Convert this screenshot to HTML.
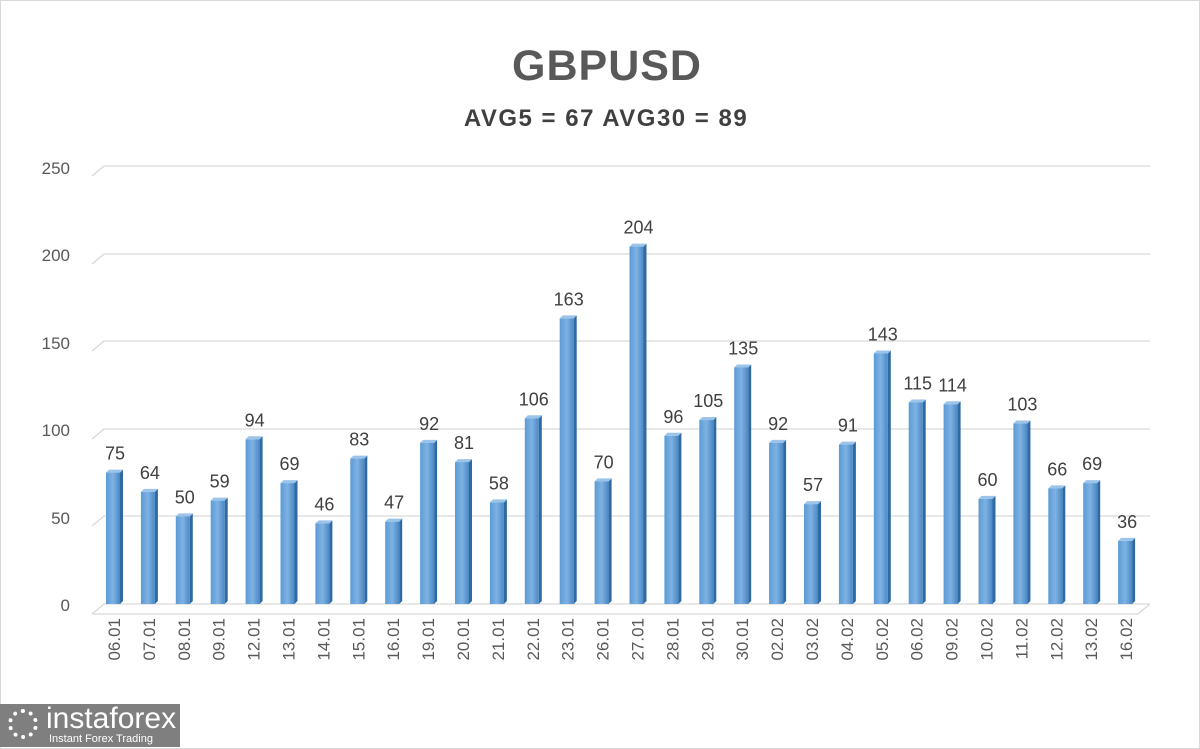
<!DOCTYPE html>
<html><head><meta charset="utf-8"><style>
body{margin:0;background:#fff;}
svg{display:block;font-family:"Liberation Sans",sans-serif;}
</style></head><body>
<svg width="1200" height="749" viewBox="0 0 1200 749">
<defs>
<linearGradient id="g" x1="0" x2="1" y1="0" y2="0">
<stop offset="0" stop-color="#5b9bd5"/><stop offset="0.5" stop-color="#7fb2e3"/><stop offset="1" stop-color="#4a88c4"/>
</linearGradient>
</defs>
<rect x="0.5" y="0.5" width="1199" height="748" fill="#fff" stroke="#d9d9d9"/>
<text x="607" y="80" text-anchor="middle" font-size="43" font-weight="bold" fill="#595959" letter-spacing="1">GBPUSD</text>
<text x="606" y="126" text-anchor="middle" font-size="24" font-weight="bold" fill="#404040" letter-spacing="1.5">AVG5 = 67 AVG30 = 89</text>
<g stroke="#d9d9d9" stroke-width="1.3" fill="none">
<path d="M92,176 L104,166 H1150"/>
<path d="M92,264 L104,254 H1150"/>
<path d="M92,351 L104,341 H1150"/>
<path d="M92,439 L104,429 H1150"/>
<path d="M92,526 L104,516 H1150"/>
<path d="M92,614 L104,604 H1150"/>
<path d="M92,614 H1138 L1150,604"/>
</g>
<g font-size="17" fill="#595959" text-anchor="end">
<text x="70" y="174">250</text><text x="70" y="261">200</text><text x="70" y="349">150</text>
<text x="70" y="436">100</text><text x="70" y="524">50</text><text x="70" y="611">0</text>
</g>
<g id="bars"></g>
</svg>
<script>
var v=[75,64,50,59,94,69,46,83,47,92,81,58,106,163,70,204,96,105,135,92,57,91,143,115,114,60,103,66,69,36];
var d=["06.01","07.01","08.01","09.01","12.01","13.01","14.01","15.01","16.01","19.01","20.01","21.01","22.01","23.01","26.01","27.01","28.01","29.01","30.01","02.02","03.02","04.02","05.02","06.02","09.02","10.02","11.02","12.02","13.02","16.02"];
var s="";
for(var i=0;i<30;i++){var c=114+i*34.9,t=604-v[i]*1.752,x=c-8;
s+='<polygon points="'+(x+14)+','+t+' '+(x+17)+','+(t-3)+' '+(x+17)+','+601+' '+(x+14)+',604" fill="#2f6aa3"/>';
s+='<polygon points="'+x+','+t+' '+(x+3)+','+(t-3)+' '+(x+17)+','+(t-3)+' '+(x+14)+','+t+'" fill="#9cc4ea"/>';
s+='<rect x="'+x+'" y="'+t+'" width="14" height="'+(604-t)+'" fill="url(#g)"/>';
s+='<text x="'+(c+1)+'" y="'+(t-13)+'" text-anchor="middle" font-size="18" fill="#404040">'+v[i]+'</text>';
s+='<text transform="translate('+(c+6)+',618) rotate(-90)" text-anchor="end" font-size="17" fill="#595959">'+d[i]+'</text>';}
document.getElementById("bars").innerHTML=s;
</script>
<div style="position:absolute;left:0;top:704px;width:180px;height:43px;background:#7f7f7f;color:#fff;font-family:'Liberation Sans',sans-serif;">
<div style="position:absolute;left:8px;top:5px;width:30px;height:30px;border-radius:50%;border:4px dotted #fff;box-sizing:border-box;"></div>
<div style="position:absolute;left:46px;top:-2px;font-size:30px;">instaforex</div>
<div style="position:absolute;left:49px;top:29px;font-size:11px;">Instant Forex Trading</div>
</div>
</body></html>
